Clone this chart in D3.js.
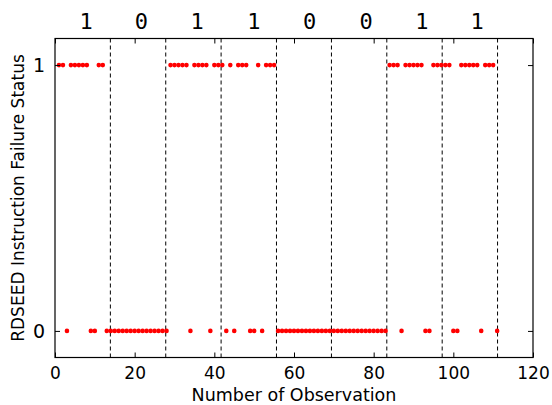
<!DOCTYPE html>
<html>
<head>
<meta charset="utf-8">
<script src="https://cdn.jsdelivr.net/npm/d3@7/dist/d3.min.js"></script>
<style>
html,body{margin:0;padding:0;background:#fff;}
svg{display:block;}
</style>
</head>
<body>
<svg id="chart" width="552" height="405"></svg>
<script>
// Failure status (1 = failure) for observations 1..111
const status = [
  1,1,0,1,1,1,1,1,0,0,
  1,1,0,0,0,0,0,0,0,0,
  0,0,0,0,0,0,0,0,1,1,
  1,1,1,0,1,1,1,1,0,1,
  1,1,0,1,0,1,1,1,0,0,
  1,0,1,1,1,0,0,0,0,0,
  0,0,0,0,0,0,0,0,0,0,
  0,0,0,0,0,0,0,0,0,0,
  0,0,0,1,1,1,0,1,1,1,
  1,1,0,0,1,1,1,1,1,0,
  0,1,1,1,1,1,0,1,1,1,
  0
];
const observations = status.map((_, i) => i + 1);
const boundaries = [13.9, 27.8, 41.7, 55.6, 69.4, 83.3, 97.2, 111.1];
const bits = ["1","0","1","1","0","0","1","1"];
const bitCenters = [7.8, 21.7, 35.7, 49.9, 63.9, 78.1, 92.1, 106.0];
const xTicks = [0, 20, 40, 60, 80, 100, 120];
const yTicks = [0, 1];

const svg = d3.select("#chart");
const L = 55, R = 533, T = 38.5, B = 357.5;
const x = d3.scaleLinear().domain([0, 120]).range([L, R]);
const y = d3.scaleLinear().domain([-0.1, 1.1]).range([B, T]);

// dashed boundaries
svg.append("g").selectAll("line").data(boundaries).join("line")
  .attr("x1", d => x(d)).attr("x2", d => x(d))
  .attr("y1", T).attr("y2", B)
  .attr("stroke", "#000").attr("stroke-width", 1)
  .attr("stroke-dasharray", "4,3");

// points
svg.append("g").selectAll("circle").data(observations).join("circle")
  .attr("cx", d => x(d)).attr("cy", (d, i) => y(status[i]))
  .attr("r", 2.3).attr("fill", "#ff0000");

// axes (ticks inward)
const font = "DejaVu Sans, sans-serif";
const ax = svg.append("g").attr("transform", `translate(0,${B})`)
  .call(d3.axisBottom(x).tickValues(xTicks).tickSizeInner(-5).tickSizeOuter(0).tickPadding(9));
const axTop = svg.append("g").attr("transform", `translate(0,${T})`)
  .call(d3.axisTop(x).tickValues(xTicks).tickSizeInner(-5).tickSizeOuter(0).tickFormat(""));
const ay = svg.append("g").attr("transform", `translate(${L},0)`)
  .call(d3.axisLeft(y).tickValues(yTicks).tickFormat(d3.format("d")).tickSizeInner(-5).tickSizeOuter(0).tickPadding(10));
const ayR = svg.append("g").attr("transform", `translate(${R},0)`)
  .call(d3.axisRight(y).tickValues(yTicks).tickSizeInner(-5).tickSizeOuter(0).tickFormat(""));
[ax, axTop, ay, ayR].forEach(g => {
  g.select(".domain").remove();
  g.selectAll("line").attr("stroke", "#000").attr("stroke-width", 1);
  g.selectAll("text").attr("font-family", font).attr("font-size", 17).attr("fill", "#000");
});
ay.selectAll("text").attr("font-size", 19);

// frame
svg.append("rect").attr("x", L).attr("y", T).attr("width", R - L).attr("height", B - T)
  .attr("fill", "none").attr("stroke", "#000").attr("stroke-width", 1.2);

// bit labels
svg.append("g").selectAll("text").data(bits).join("text")
  .attr("x", (d, i) => x(bitCenters[i])).attr("y", 29)
  .attr("text-anchor", "middle")
  .attr("font-family", "DejaVu Sans Mono, monospace").attr("font-size", 22)
  .text(d => d);

// axis titles
svg.append("text").attr("x", (L + R) / 2).attr("y", 401)
  .attr("text-anchor", "middle").attr("font-family", font).attr("font-size", 17.5)
  .text("Number of Observation");
svg.append("text").attr("transform", `translate(24,${(T + B) / 2}) rotate(-90)`)
  .attr("text-anchor", "middle").attr("font-family", font).attr("font-size", 17)
  .text("RDSEED Instruction Failure Status");
</script>
</body>
</html>
